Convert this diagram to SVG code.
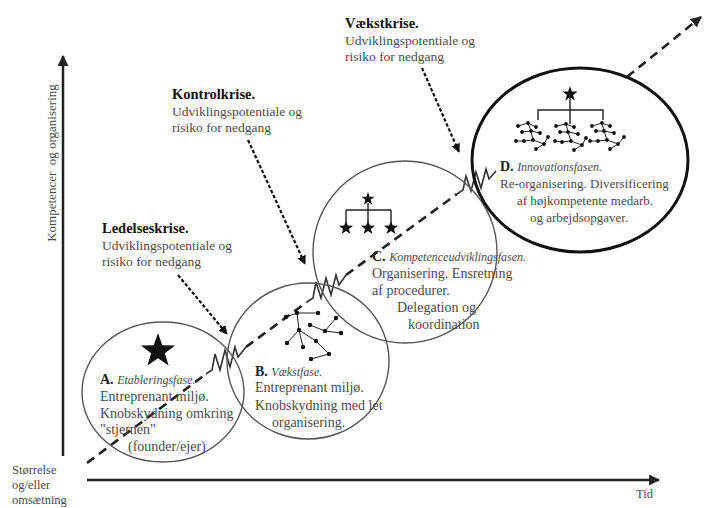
<svg xmlns="http://www.w3.org/2000/svg" width="706" height="508" viewBox="0 0 706 508">
<style>
.axis{stroke:#222;stroke-width:2.5;fill:none}
.main{stroke:#222;stroke-width:2.6;fill:none;stroke-dasharray:9 6}
.crisis{stroke:#111;stroke-width:2.2;fill:none;stroke-dasharray:3.5 2}
.ell{fill:none;stroke:#555;stroke-width:1.4}
.ellD{fill:none;stroke:#111;stroke-width:3}
.zz{fill:none;stroke:#333;stroke-width:1.6;stroke-linejoin:miter}
.t{font-family:"Liberation Serif","Times New Roman",serif;fill:#4a4a4a}
.body{font-size:14px}
.sub{font-size:13.5px}
.head{font-size:14.5px;font-weight:bold;fill:#111}
.it{font-style:italic;font-size:12px}
.b{font-weight:bold;fill:#222}
.net{stroke:#222;stroke-width:1;fill:none}
.dot{fill:#111}
.org{stroke:#222;stroke-width:1.4;fill:none}
</style>
<defs>
<marker id="ah" viewBox="0 0 10 10" refX="9" refY="5" markerWidth="9" markerHeight="9" markerUnits="userSpaceOnUse" orient="auto">
<path d="M0,0 L10,5 L0,10 z" fill="#111"/>
</marker>
<marker id="ahBig" viewBox="0 0 10 10" refX="9" refY="5" markerWidth="11" markerHeight="11" markerUnits="userSpaceOnUse" orient="auto">
<path d="M0,0 L10,5 L0,10 z" fill="#222"/>
</marker>
<path id="star" d="M0,-1 L0.235,-0.324 L0.951,-0.309 L0.380,0.124 L0.588,0.809 L0,0.4 L-0.588,0.809 L-0.380,0.124 L-0.951,-0.309 L-0.235,-0.324 Z" fill="#111"/>
</defs>

<!-- axes -->
<g id="axes">
<line class="axis" x1="63" y1="456" x2="63" y2="56" marker-end="url(#ahBig)"/>
<line class="axis" x1="87" y1="480" x2="659" y2="480" marker-end="url(#ahBig)"/>
<text class="t" font-size="13px" transform="translate(56,163) rotate(-90)" text-anchor="middle" xml:space="preserve">Kompetencer  og organisering</text>
<text class="t" font-size="12.5px" x="636" y="498">Tid</text>
<text class="t" font-size="12.5px" x="12" y="474">Størrelse</text>
<text class="t" font-size="12.5px" x="12" y="489">og/eller</text>
<text class="t" font-size="12.5px" x="12" y="504">omsætning</text>
</g>

<!-- connectors -->
<g id="connectors">
<line class="main" x1="87" y1="463" x2="206" y2="374"/>
<line class="main" x1="246" y1="347" x2="307" y2="302"/>
<line class="main" x1="346" y1="275" x2="457" y2="194"/>
<line class="main" x1="627" y1="77" x2="701" y2="17" marker-end="url(#ahBig)"/>
<path class="zz" d="M206,374 L212,370 L215,354 L220,370 L225,350 L230,367 L235,347 L238,357 L246,347"/>
<path class="zz" d="M307,302 L313,298 L316,282 L321,298 L326,278 L331,295 L336,275 L339,285 L346,275"/>
<path class="zz" d="M457,194 L463,190 L466,176 L471,191 L476,172 L481,188 L486,169 L489,179 L496,171"/>
<line class="crisis" x1="178" y1="275" x2="227" y2="334" marker-end="url(#ah)"/>
<line class="crisis" x1="248" y1="140" x2="305" y2="264" marker-end="url(#ah)"/>
<line class="crisis" x1="422" y1="68" x2="459" y2="152" marker-end="url(#ah)"/>
</g>

<!-- crisis labels -->
<g id="ledelseskrise">
<text class="t head" x="102" y="233">Ledelseskrise.</text>
<text class="t sub" x="102" y="250">Udviklingspotentiale og</text>
<text class="t sub" x="102" y="266">risiko for nedgang</text>
</g>
<g id="kontrolkrise">
<text class="t head" x="172" y="99">Kontrolkrise.</text>
<text class="t sub" x="172" y="116">Udviklingspotentiale og</text>
<text class="t sub" x="172" y="132">risiko for nedgang</text>
</g>
<g id="vaekstkrise">
<text class="t head" x="345" y="28">Vækstkrise.</text>
<text class="t sub" x="345" y="45">Udviklingspotentiale og</text>
<text class="t sub" x="345" y="61">risiko for nedgang</text>
</g>

<!-- Phase A -->
<g id="phaseA">
<ellipse class="ell" cx="163" cy="392" rx="81" ry="70"/>
<use href="#star" transform="translate(158,351) scale(18)"/>
<text class="t body" x="100" y="384"><tspan class="b">A.</tspan> <tspan class="it">Etableringsfase.</tspan></text>
<text class="t body" x="100" y="401">Entreprenant miljø.</text>
<text class="t body" x="100" y="418">Knobskydning omkring</text>
<text class="t body" x="100" y="434">"stjernen"</text>
<text class="t body" x="128" y="451">(founder/ejer)</text>
</g>

<!-- Phase B -->
<g id="phaseB">
<ellipse class="ell" cx="308" cy="361" rx="81" ry="78"/>
<g class="net">
<line x1="297" y1="313" x2="318" y2="313"/>
<line x1="297" y1="313" x2="299" y2="330"/>
<line x1="299" y1="330" x2="287" y2="343"/>
<line x1="299" y1="330" x2="303" y2="347"/>
<line x1="299" y1="330" x2="316" y2="341"/>
<line x1="310" y1="325" x2="325" y2="331"/>
<line x1="325" y1="331" x2="341" y2="333"/>
<line x1="336" y1="318" x2="325" y2="331"/>
<line x1="316" y1="341" x2="329" y2="354"/>
<line x1="311" y1="359" x2="329" y2="354"/>
<line x1="286" y1="317" x2="297" y2="313"/>
</g>
<g class="dot">
<circle cx="286" cy="317" r="2.2"/><circle cx="297" cy="313" r="2.2"/><circle cx="318" cy="313" r="2.2"/>
<circle cx="336" cy="318" r="2.2"/><circle cx="310" cy="325" r="2.2"/><circle cx="299" cy="330" r="2.2"/>
<circle cx="325" cy="331" r="2.2"/><circle cx="341" cy="333" r="2.2"/><circle cx="287" cy="343" r="2.2"/>
<circle cx="316" cy="341" r="2.2"/><circle cx="303" cy="347" r="2.2"/><circle cx="329" cy="354" r="2.2"/>
<circle cx="311" cy="359" r="2.2"/>
</g>
<text class="t body" x="255" y="376"><tspan class="b">B.</tspan> <tspan class="it">Vækstfase.</tspan></text>
<text class="t body" x="255" y="392">Entreprenant miljø.</text>
<text class="t body" x="255" y="410">Knobskydning med let</text>
<text class="t body" x="272" y="427">organisering.</text>
</g>

<!-- Phase C -->
<g id="phaseC">
<ellipse class="ell" cx="405" cy="252" rx="92" ry="91"/>
<path class="org" d="M368,203 V210 M346,210 H391 M346,210 V222 M368,210 V222 M391,210 V222"/>
<use href="#star" transform="translate(368,199) scale(7)"/>
<use href="#star" transform="translate(346,228) scale(7.5)"/>
<use href="#star" transform="translate(368,228) scale(7.5)"/>
<use href="#star" transform="translate(391,228) scale(7.5)"/>
<text class="t body" x="372" y="261"><tspan class="b">C.</tspan> <tspan class="it">Kompetenceudviklingsfasen.</tspan></text>
<text class="t body" x="372" y="278">Organisering. Ensretning</text>
<text class="t body" x="372" y="295">af procedurer.</text>
<text class="t body" x="397" y="312">Delegation og</text>
<text class="t body" x="408" y="329">koordination</text>
</g>

<!-- Phase D -->
<g id="phaseD">
<ellipse class="ellD" cx="580" cy="160" rx="108" ry="92"/>
<path class="org" d="M570,97 V124 M538,120 V110 H603 V120"/>
<use href="#star" transform="translate(570,94) scale(8)"/>
<g class="net" stroke-width="0.9">
<path d="M518,126 L528,123 L536,127 M528,123 L531,131 L540,133 M522,132 L531,131 M531,131 L533,140 L524,141 M533,140 L544,144 L548,137 M536,149 L544,144 M516,141 L524,141"/>
<path d="M556,126 L566,124 L574,127 M566,124 L568,132 L578,134 M560,132 L568,132 M568,132 L571,141 L562,142 M571,141 L582,145 L586,138 M574,150 L582,145 M555,141 L562,142"/>
<path d="M592,126 L602,123 L610,126 M602,123 L604,131 L614,133 M596,131 L604,131 M604,131 L607,140 L598,141 M607,140 L618,144 L624,137 M610,149 L618,144 M590,141 L598,141"/>
</g>
<g class="dot">
<circle cx="518" cy="126" r="1.9"/><circle cx="528" cy="123" r="1.9"/><circle cx="536" cy="127" r="1.9"/><circle cx="522" cy="132" r="1.9"/><circle cx="531" cy="131" r="1.9"/><circle cx="540" cy="133" r="1.9"/><circle cx="533" cy="140" r="1.9"/><circle cx="524" cy="141" r="1.9"/><circle cx="544" cy="144" r="1.9"/><circle cx="548" cy="137" r="1.9"/><circle cx="536" cy="149" r="1.9"/><circle cx="516" cy="141" r="1.9"/>
<circle cx="556" cy="126" r="1.9"/><circle cx="566" cy="124" r="1.9"/><circle cx="574" cy="127" r="1.9"/><circle cx="560" cy="132" r="1.9"/><circle cx="568" cy="132" r="1.9"/><circle cx="578" cy="134" r="1.9"/><circle cx="571" cy="141" r="1.9"/><circle cx="562" cy="142" r="1.9"/><circle cx="582" cy="145" r="1.9"/><circle cx="586" cy="138" r="1.9"/><circle cx="574" cy="150" r="1.9"/><circle cx="555" cy="141" r="1.9"/>
<circle cx="592" cy="126" r="1.9"/><circle cx="602" cy="123" r="1.9"/><circle cx="610" cy="126" r="1.9"/><circle cx="596" cy="131" r="1.9"/><circle cx="604" cy="131" r="1.9"/><circle cx="614" cy="133" r="1.9"/><circle cx="607" cy="140" r="1.9"/><circle cx="598" cy="141" r="1.9"/><circle cx="618" cy="144" r="1.9"/><circle cx="624" cy="137" r="1.9"/><circle cx="610" cy="149" r="1.9"/><circle cx="590" cy="141" r="1.9"/>
</g>
<text class="t body" x="500" y="171"><tspan class="b">D.</tspan> <tspan class="it">Innovationsfasen.</tspan></text>
<text class="t" style="font-size:13px" x="500" y="188">Re-organisering. Diversificering</text>
<text class="t" style="font-size:13px" x="517" y="205">af højkompetente medarb.</text>
<text class="t" style="font-size:13px" x="530" y="222">og arbejdsopgaver.</text>
</g>
</svg>
